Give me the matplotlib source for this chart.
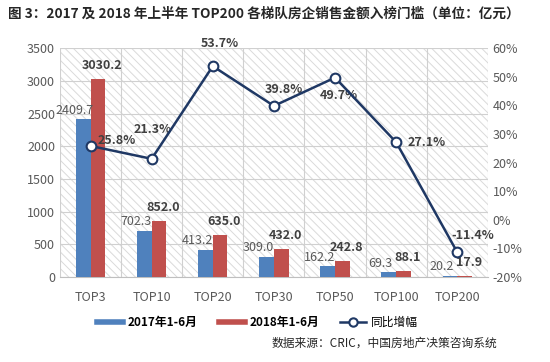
import matplotlib
matplotlib.use('Agg')
import matplotlib.pyplot as plt
import numpy as np
from matplotlib.patches import Rectangle
from matplotlib.lines import Line2D

plt.rcParams['font.family'] = ['Noto Sans CJK SC', 'DejaVu Sans']
plt.rcParams['hatch.linewidth'] = 0.7

categories = ['TOP3', 'TOP10', 'TOP20', 'TOP30', 'TOP50', 'TOP100', 'TOP200']
sales_2017 = [2409.7, 702.3, 413.2, 309.0, 162.2, 69.3, 20.2]
sales_2018 = [3030.2, 852.0, 635.0, 432.0, 242.8, 88.1, 17.9]
growth = [25.8, 21.3, 53.7, 39.8, 49.7, 27.1, -11.4]

# label offsets (points) for the growth labels
g_off = [(19, 4), (1, 21), (5, 16), (7, 12), (3, -13), (22, 0), (11, 12)]

blue = '#4F81BD'
red = '#C0504D'
navy = '#1F3864'
grey = '#595959'

fig = plt.figure(figsize=(5.5, 3.62), dpi=100)
ax = fig.add_axes([0.109, 0.235, 0.778, 0.632])

x = np.arange(len(categories))
w = 0.24

# hatched background
bg = Rectangle((0, 0), 1, 1, transform=ax.transAxes, facecolor='white',
               edgecolor='#dadada', hatch='\\\\\\\\', linewidth=0, zorder=0)
ax.add_patch(bg)

ax.bar(x - w / 2, sales_2017, w, color=blue, zorder=3)
ax.bar(x + w / 2, sales_2018, w, color=red, zorder=3)

ax.set_ylim(0, 3500)
ax.set_xlim(-0.5, len(categories) - 0.5)
ax.set_yticks(range(0, 3501, 500))
ax.set_xticks(x)
ax.set_xticklabels(categories)
ax.set_xticks(np.arange(-0.5, len(categories), 1), minor=True)
ax.grid(axis='y', color='#d0d0d0', linewidth=0.8, zorder=1)
ax.grid(axis='x', which='minor', color='#d0d0d0', linewidth=0.8, zorder=1)
ax.tick_params(axis='both', which='both', length=0, colors=grey, labelsize=9)
ax.tick_params(axis='x', pad=10)
for s in ['top', 'right', 'left']:
    ax.spines[s].set_visible(False)
ax.spines['bottom'].set_color('#bfbfbf')

for i in range(len(categories)):
    ax.annotate(f'{sales_2017[i]:.1f}', (x[i] - w / 2, sales_2017[i]),
                xytext=(-6, 2), textcoords='offset points', ha='center', va='bottom',
                fontsize=9, color=grey)
    ax.annotate(f'{sales_2018[i]:.1f}', (x[i] + w / 2, sales_2018[i]),
                xytext=(3, 5), textcoords='offset points', ha='center', va='bottom',
                fontsize=9, color='#404040', fontweight='bold')

ax2 = ax.twinx()
ax2.plot(x, growth, color=navy, linewidth=1.8, marker='o', markersize=7,
         markerfacecolor='white', markeredgecolor=navy, markeredgewidth=1.5,
         zorder=5)
ax2.set_ylim(-20, 60)
ax2.set_yticks(range(-20, 61, 10))
ax2.set_yticklabels([f'{v}%' for v in range(-20, 61, 10)])
ax2.tick_params(axis='y', length=0, colors=grey, labelsize=9)
for s in ['top', 'right', 'left', 'bottom']:
    ax2.spines[s].set_visible(False)

for i in range(len(categories)):
    ax2.annotate(f'{growth[i]:.1f}%', (x[i], growth[i]), xytext=g_off[i],
                 textcoords='offset points', ha='center', va='center',
                 fontsize=9, color='#404040', fontweight='bold')

handles = [Line2D([], [], color=blue, linewidth=4),
           Line2D([], [], color=red, linewidth=4),
           Line2D([], [], color=navy, linewidth=1.8, marker='o', markersize=6,
                  markerfacecolor='white', markeredgewidth=1.5)]
labels = ['2017年1-6月', '2018年1-6月', '同比增幅']
leg = fig.legend(handles, labels, loc='center', bbox_to_anchor=(0.468, 0.11), ncol=3,
                 frameon=False, handlelength=2.2, columnspacing=1.8, handletextpad=0.4,
                 prop={'weight': 'bold', 'size': 8.5})
leg.get_texts()[2].set_fontweight('normal')

fig.text(0.015, 0.962, '图 3：2017 及 2018 年上半年 TOP200 各梯队房企销售金额入榜门槛（单位：亿元）',
         fontsize=9.8, fontweight='bold', color='#262626', va='center')
fig.text(0.905, 0.052, '数据来源：CRIC，中国房地产决策咨询系统', fontsize=8.5,
         color='#262626', ha='right', va='center')

fig.savefig('out.png', dpi=100)
